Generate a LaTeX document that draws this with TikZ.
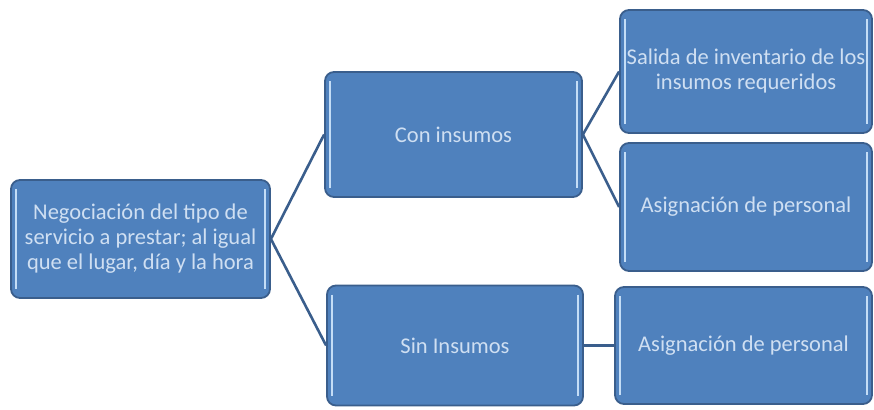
\documentclass[tikz,border=0pt]{standalone}
\usepackage{fontspec}
\setmainfont{Carlito}
\usepackage{xcolor}
\definecolor{boxblue}{HTML}{4F81BD}
\definecolor{boxedge}{HTML}{3A5E8C}
\definecolor{boxtext}{HTML}{CFDFF2}
\definecolor{barblue}{HTML}{C4DDF6}
\newcommand{\sidebars}[1]{
\draw[barblue,line width=2.6pt]([xshift=6pt,yshift=-10pt]#1.north west)--([xshift=6pt,yshift=10pt]#1.south west);
\draw[barblue,line width=2.6pt]([xshift=-6pt,yshift=-10pt]#1.north east)--([xshift=-6pt,yshift=10pt]#1.south east);
}
\tikzset{
box/.style={draw=boxedge,line width=1.8pt,fill=boxblue,rounded corners=9pt,
  text=boxtext,align=center,font=\fontsize{22.5}{25}\selectfont,inner sep=0pt},
link/.style={draw=boxedge,line width=2.6pt}
}
\begin{document}
\begin{tikzpicture}[x=1pt,y=-1pt]
\useasboundingbox (0,0) rectangle (874,409);

\node[box,minimum width=259pt,minimum height=118pt] (neg) at (140.5,239)
 {Negociación del tipo de\\servicio a prestar; al igual\\que el lugar, día y la hora};
\node[box,minimum width=257pt,minimum height=125pt] (con) at (453.5,134.5) {Con insumos};
\node[box,minimum width=256pt,minimum height=120pt] (sin) at (455,345.5) {Sin Insumos};
\node[box,minimum width=252pt,minimum height=123pt] (sal) at (746,71.5)
 {Salida de inventario de los\\insumos requeridos};
\node[box,minimum width=252pt,minimum height=128pt] (asiga) at (746,207) {Asignación de personal};
\node[box,minimum width=257pt,minimum height=117pt] (asigb) at (743.5,345.5) {Asignación de personal};

\sidebars{neg}
\sidebars{con}
\sidebars{sin}
\sidebars{sal}
\sidebars{asiga}
\sidebars{asigb}

\draw[link] (neg.east)--(con.west);
\draw[link] (neg.east)--(sin.west);
\draw[link] (con.east)--(sal.west);
\draw[link] (con.east)--(asiga.west);
\draw[link] (sin.east)--(asigb.west);

\end{tikzpicture}
\end{document}
